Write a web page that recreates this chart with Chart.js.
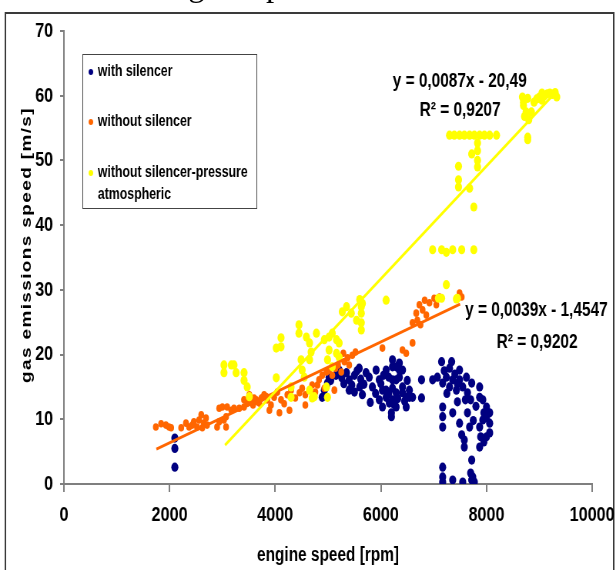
<!DOCTYPE html>
<html>
<head>
<meta charset="utf-8">
<script src="https://cdn.jsdelivr.net/npm/chart.js@4.4.0/dist/chart.umd.min.js"></script>
<style>
  html, body { margin: 0; padding: 0; background: #fff; }
  #wrap { position: relative; width: 616px; height: 570px; overflow: hidden; background: #fff; }
  /* the source picture is squeezed sideways, so the whole canvas is too */
  #emissionChart { position: absolute; left: 0; top: 0; transform: scaleX(0.77); transform-origin: 0 0; }
  #caption { position: absolute; z-index: 2; left: 157px; top: -31px; font: 33px/33px 'Liberation Serif', 'Times New Roman', serif; color: #000; white-space: nowrap; }
</style>
</head>
<body>
<div id="wrap">
	<canvas id="emissionChart" width="800" height="570"></canvas>
	<div id="caption">engine speed</div>
</div>
<script>
/* series names */
var seriesNames = ['with silencer', 'without silencer', 'without silencer-pressure atmospheric'];

/* axes */
var xTicks = [0, 2000, 4000, 6000, 8000, 10000];
var yTicks = [0, 10, 20, 30, 40, 50, 60, 70];

/* with silencer [rpm, m/s] */
var withSilencer = [
	[2100,7.1],[2100,5.5],[2100,2.6],
	[4890,13.4],[4930,14.5],[4990,15.6],[5020,16.5],[5050,16],
	[5150,16.8],[5210,17.6],[5260,16.4],[5300,15.5],[5350,17.2],[5400,16.1],[5400,14.5],[5450,15.3],
	[5500,16.8],[5500,14.2],[5550,17.5],[5590,17.9],[5600,15],[5620,16.2],[5650,13.8],[5680,15.4],
	[5720,17.2],[5780,16.5],[5800,12.6],[5840,15],[5900,14],[5910,17.6],[5970,16.1],[5970,13],
	[6000,15.5],[6030,14.5],[6030,11.9],[6050,16.8],[6100,13.4],[6100,17.6],[6100,14.5],[6150,16.5],
	[6150,14],[6160,12.5],[6200,11],[6200,10.4],[6220,19.2],[6220,18.1],[6220,16.1],[6220,14.8],
	[6220,13],[6250,12.3],[6290,18.1],[6290,16.1],[6290,14.1],[6290,11.9],[6320,13.2],[6350,18.7],
	[6350,17.6],[6350,16.5],[6410,17.6],[6410,15],[6410,14.1],[6450,12.8],[6480,13.4],[6480,11.9],
	[6500,16],[6540,14.5],[6540,13.4],[6600,13.4],[6770,16.1],[6770,13.3],
	[6980,16.1],[7070,16.5],[7150,18.9],[7170,15.6],[7170,11.9],[7170,10.4],[7170,8.8],[7170,2.6],
	[7170,1.1],[7170,0.3],[7200,17.5],[7240,16.5],[7250,14],[7300,17.9],[7300,15],[7340,18.9],
	[7360,16.1],[7360,11],[7360,0.6],[7400,17],[7430,14.5],[7450,12.7],[7450,15.5],[7490,17.6],
	[7490,16.1],[7490,9.4],[7530,7.6],[7550,15],[7550,0.3],[7580,6.8],[7580,5.7],[7600,13],
	[7620,16.5],[7640,14.1],[7640,11],[7680,8.8],[7700,13],[7720,15.6],[7720,3.7],[7700,1.7],
	[7720,0.6],[7740,1.1],[7750,9.8],[7770,0.3],[7800,12],[7870,15],[7870,13.4],[7870,8.8],
	[7870,5.7],[7890,7.3],[7930,13],[7930,9.9],[7950,11],[7950,6.5],[8000,11.9],[8000,10.2],
	[8000,7.3],[8060,11],[8060,9.4],[8060,7.9]
];

/* without silencer [rpm, m/s] */
var withoutSilencer = [
	[1740,8.8],[1840,9.3],[1930,9.1],[1990,8.8],[2030,8.7],[2220,8.7],[2310,9.4],[2370,8.8],
	[2430,9.1],[2460,9.6],[2520,8.8],[2560,9.9],[2600,10.7],[2620,8.7],[2650,9.4],[2690,10.2],
	[2710,9.1],[2900,8.8],[2940,9.6],[3030,9.9],[3070,8.8],[3070,10.4],[2940,11.7],[3000,11.9],
	[3090,11.9],[3170,11.4],[3220,11.7],[3320,11.7],[3410,11.9],[3470,12.5],[3540,12.7],[3640,13],
	[3700,12.5],[3750,13.3],[3830,13.5],
	[3410,13.0],[3510,13.8],[3600,13.3],[3660,12.7],[3740,13.3],[3790,13.8],[3850,13.0],[3920,12.2],
	[3980,13.4],[4040,14.2],[4110,13.0],[4170,12.4],[4230,13.8],[4300,14.5],[4380,13.3],[4460,14.1],
	[4510,14.8],[4570,13.8],[4650,14.5],[4700,15.3],[4760,14.2],[3890,11.4],[4270,11.4],[4080,11.0],
	[4570,12.2],[3580,12.2],
	[4830,16.1],[4890,16.8],[4970,17.3],[5020,17.6],[5080,16.8],[5140,17.9],[5190,18.4],[5250,17.3],
	[5310,18.9],[5370,19.5],[5400,18.4],[5460,19.9],[5520,20.4],[4930,14.8],[5120,14.5],[4800,15.3],
	[5290,20.2],[6030,21.0],[6410,20.7],[6480,20.2],[6600,21.8],[6600,24.9],[6670,26.4],[6730,27.7],
	[6790,26.9],[6830,28.4],[6860,26.1],[6920,28.0],[7010,28.7],[7110,28.9],[7490,29.5],[7530,28.9],
	[6690,25.3],[6750,24.6],[7050,27.7]
];

/* without silencer - pressure atmospheric [rpm, m/s] */
var withoutSilencerAtm = [
	[3030,18.4],[3030,17.2],[3170,18.4],[3220,18.4],[3260,17.2],[3410,17.2],[3410,16],[3470,15],[3510,13.5],
	[4020,21],[4110,22.6],[4110,21.2],[4020,16.4],[4300,13.4],[4300,15],[4450,24.6],[4450,23.3],
	[4490,19.2],[4510,17.6],[4550,16.5],[4590,22.7],[4650,21.8],[4680,20.4],[4650,19.2],[4650,14.5],
	[4740,13.5],[4700,13.3],[4780,23.3],[4930,22.3],[5020,22.7],[5080,23.3],[5160,22.3],[5210,21.8],
	[5020,20.7],[5160,20.2],[5210,19.6],[4990,19.2],[5080,18.1],[4970,15],[4990,13.4],
	[5270,26.6],[5350,27.4],[5440,26.4],[5540,25.3],[5630,26.4],[5630,24.9],[5630,23.8],[5630,27.4],
	[5600,28.5],[5650,27.9],[6100,28.4],
	[7090,28.7],[7150,28.7],[7240,30.8],[7430,28.6],[7450,28.7],
	[6980,36.2],[7150,36.2],[7240,35.8],[7360,36.2],[7530,36.2],[7760,36.2],[7760,42.8],[7680,45.7],
	[7470,45.9],[7470,47],[7470,49.1],[7720,51],[7830,52.7],[7830,51.5],[7830,50],[7830,49],
	[7300,53.9],[7390,53.9],[7490,53.9],[7580,53.9],[7680,53.9],[7770,53.9],[7870,53.9],[7960,53.9],
	[8060,53.9],[8190,53.9],
	[8780,53.6],[8780,53.2],[8680,59.8],[8700,58.5],[8750,57.5],[8720,56.8],[8800,56.3],[8850,57.5],
	[8900,59],[8950,59.5],[9000,59.8],[9050,59.3],[9100,60],[9150,60.3],[9200,60.4],[9250,60.2],
	[9300,60.5],[9330,59.8],[8700,59],[8780,59.6],[9050,60.4]
];

/* linear trend lines, end points */
var trendAtm = [[3050, 6.0], [9250, 60.0]];
var trendWithout = [[1750, 5.4], [7500, 27.8]];
var trendAtmText = ['y = 0,0087x - 20,49', 'R\u00b2 = 0,9207'];
var trendWithoutText = ['y = 0,0039x - 1,4547', 'R\u00b2 = 0,9202'];

var sans = "'Liberation Sans', Arial, sans-serif";

function toXY(arr) {
	return arr.map(function (p) { return { x: p[0], y: p[1] }; });
}

function noPad(scale) {
	scale.paddingLeft = 0;
	scale.paddingRight = 0;
	scale.paddingTop = 0;
	scale.paddingBottom = 0;
}

/* frame round the picture */
var framePlugin = {
	id: 'frame',
	beforeDraw: function (chart) {
		var ctx = chart.ctx;
		ctx.save();
		ctx.fillStyle = '#fff';
		ctx.fillRect(0, 0, chart.width, chart.height);
		ctx.strokeStyle = '#3a3a3a';
		ctx.lineWidth = 2;
		ctx.strokeRect(7, 13, 790, 600);
		ctx.restore();
	}
};

/* legend box inside the plot */
var legendPlugin = {
	id: 'boxLegend',
	afterDraw: function (chart) {
		var ctx = chart.ctx;
		var colors = ['#000080', '#ff6600', '#ffff00'];
		var rows = [72, 122, 173];
		ctx.save();
		ctx.fillStyle = '#fff';
		ctx.fillRect(107, 54, 226, 154);
		ctx.strokeStyle = '#444';
		ctx.lineWidth = 1;
		ctx.strokeRect(107.5, 54.5, 226, 154);
		ctx.font = 'bold 16px ' + sans;
		ctx.textBaseline = 'middle';
		seriesNames.forEach(function (name, i) {
			ctx.fillStyle = colors[i];
			ctx.beginPath();
			ctx.arc(118, rows[i], 3, 0, Math.PI * 2);
			ctx.fill();
			ctx.fillStyle = '#000';
			var words = name.split(' '), line = '', y = rows[i];
			words.forEach(function (w) {
				var test = line ? line + ' ' + w : w;
				if (ctx.measureText(test).width > 203 && line) {
					ctx.fillText(line, 127, y);
					line = w;
					y += 22;
				} else {
					line = test;
				}
			});
			ctx.fillText(line, 127, y);
		});
		ctx.restore();
	}
};

/* trend equations + spaced y title */
var textPlugin = {
	id: 'trendText',
	afterDraw: function (chart) {
		var ctx = chart.ctx;
		ctx.save();
		ctx.fillStyle = '#000';
		ctx.font = 'bold 20px ' + sans;
		ctx.textBaseline = 'middle';
		ctx.fillText(trendAtmText[0], 510, 81);
		ctx.fillText(trendAtmText[1], 545, 110);
		ctx.fillText(trendWithoutText[0], 604, 310);
		ctx.fillText(trendWithoutText[1], 645, 342);

		ctx.translate(35, 245);
		ctx.rotate(-Math.PI / 2);
		ctx.font = 'bold 19px ' + sans;
		ctx.textAlign = 'center';
		var title = 'gas emissions speed [m/s]';
		var w = ctx.measureText(title).width;
		ctx.letterSpacing = Math.max(0, (276 - w) / title.length) + 'px';
		ctx.fillText(title, 0, 0);
		ctx.restore();
	}
};

var ctx = document.getElementById('emissionChart').getContext('2d');
var myChart = new Chart(ctx, {
	type: 'scatter',
	data: {
		datasets: [{
			label: 'trend atm',
			data: toXY(trendAtm),
			showLine: true,
			borderColor: '#ffff00',
			borderWidth: 3,
			pointRadius: 0
		}, {
			label: 'trend without',
			data: toXY(trendWithout),
			showLine: true,
			borderColor: '#ff6600',
			borderWidth: 3,
			pointRadius: 0
		}, {
			label: seriesNames[2],
			data: toXY(withoutSilencerAtm),
			backgroundColor: '#ffff00',
			borderColor: '#ffff00',
			pointRadius: 4.6,
			pointBorderWidth: 0
		}, {
			label: seriesNames[1],
			data: toXY(withoutSilencer),
			backgroundColor: '#ff6600',
			borderColor: '#ff6600',
			pointRadius: 3.8,
			pointBorderWidth: 0
		}, {
			label: seriesNames[0],
			data: toXY(withSilencer),
			backgroundColor: '#000080',
			borderColor: '#000080',
			pointRadius: 4.6,
			pointBorderWidth: 0
		}]
	},
	options: {
		responsive: false,
		animation: false,
		layout: { padding: { top: 31, right: 31, left: 0, bottom: 0 } },
		scales: {
			x: {
				type: 'linear',
				min: 0,
				max: 10000,
				afterBuildTicks: function (scale) {
					scale.ticks = xTicks.map(function (v) { return { value: v }; });
				},
				afterFit: function (scale) { scale.height = 86; noPad(scale); },
				ticks: {
					color: '#000',
					font: { family: sans, size: 21, weight: 'bold' },
					padding: 11,
					maxRotation: 0,
					callback: function (v) { return String(v); }
				},
				grid: { drawOnChartArea: false, tickLength: 8, color: '#7f7f7f', lineWidth: 2 },
				border: { color: '#7f7f7f', width: 2 },
				title: {
					display: true,
					text: 'engine speed [rpm]',
					color: '#000',
					font: { family: sans, size: 20, weight: 'bold' },
					padding: { top: 0, bottom: 3 }
				}
			},
			y: {
				type: 'linear',
				min: 0,
				max: 70,
				afterBuildTicks: function (scale) {
					scale.ticks = yTicks.map(function (v) { return { value: v }; });
				},
				afterFit: function (scale) { scale.width = 83; noPad(scale); },
				ticks: {
					color: '#000',
					font: { family: sans, size: 21, weight: 'bold' },
					padding: 9,
					callback: function (v) { return String(v); }
				},
				grid: { drawOnChartArea: false, tickLength: 5, color: '#7f7f7f', lineWidth: 2 },
				border: { color: '#7f7f7f', width: 2 }
			}
		},
		plugins: {
			legend: { display: false },
			tooltip: { enabled: false }
		}
	},
	plugins: [framePlugin, legendPlugin, textPlugin]
});
</script>
</body>
</html>
